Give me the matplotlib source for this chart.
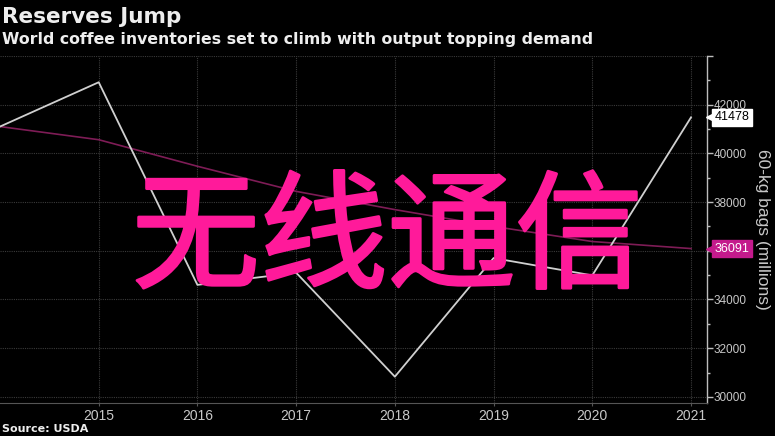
import matplotlib
matplotlib.use("Agg")
import matplotlib.pyplot as plt
import matplotlib.patheffects as pe
from matplotlib.ticker import FixedLocator, FuncFormatter, MultipleLocator
from matplotlib.transforms import blended_transform_factory

# ---- data ----
years = [2014, 2015, 2016, 2017, 2018, 2019, 2020, 2021]
stocks = [41100, 42920, 34600, 35100, 30830, 35700, 34990, 41478]
trend = [41100, 40560, 39470, 38440, 37690, 37000, 36380, 36091]
x_ticks = [2015, 2016, 2017, 2018, 2019, 2020, 2021]
y_major = [30000, 32000, 34000, 36000, 38000, 40000, 42000, 44000]
y_labels = ["30000", "32000", "34000", "", "38000", "40000", "42000", ""]

title = "Reserves Jump"
subtitle = "World coffee inventories set to climb with output topping demand"
source = "Source: USDA"
ylabel = "60-kg bags (millions)"
overlay = "无线通信"

narrow = ["Liberation Sans"]

fig = plt.figure(figsize=(7.75, 4.36), dpi=100, facecolor="black")
ax = fig.add_axes([0.0, 0.0757, 0.912, 0.796])
ax.set_facecolor("black")

ax.plot(years, trend, color="#7e1c56", lw=1.2, zorder=3)
ax.plot(years, stocks, color="#d0d0d0", lw=1.3, zorder=4)

ax.set_xlim(2014, 2021.16)
ax.set_ylim(29750, 44000)

# grid
ax.set_xticks(x_ticks)
ax.yaxis.set_major_locator(FixedLocator(y_major))
ax.yaxis.set_minor_locator(MultipleLocator(1000))
ax.yaxis.set_major_formatter(FuncFormatter(
    lambda v, p: y_labels[y_major.index(int(round(v)))] if int(round(v)) in y_major else ""))
ax.grid(True, which="major", color="#3a3a3a", lw=0.8, ls=(0, (1, 1)))

for s in ["top", "left"]:
    ax.spines[s].set_visible(False)
ax.spines["right"].set_color("#bdbdbd")
ax.spines["right"].set_linewidth(1.0)
ax.spines["bottom"].set_color("#555555")
ax.spines["bottom"].set_linestyle((0, (1, 1)))
ax.yaxis.tick_right()
ax.tick_params(axis="y", which="major", colors="#bdbdbd", length=4, width=1, pad=1,
               labelsize=8.5, labelcolor="#c8c8c8")
ax.tick_params(axis="y", which="minor", colors="#bdbdbd", length=2.5, width=1)
ax.tick_params(axis="x", colors="#555555", length=2, pad=2, labelsize=10, labelcolor="#c8c8c8")
for lab in ax.get_xticklabels() + ax.get_yticklabels():
    lab.set_family(narrow)

# y axis title on the right
fig.text(0.984, 0.474, ylabel, rotation=-90, color="#c8c8c8", fontsize=12.5,
         family=narrow, ha="center", va="center")

# value labels
tr = blended_transform_factory(ax.transAxes, ax.transData)
for val, fc, tc in [(stocks[-1], "white", "black"), (trend[-1], "#c41a8c", "white")]:
    ax.text(1.0115, val, str(val), transform=tr, ha="left", va="center",
            fontsize=9, family=narrow, color=tc, zorder=10, clip_on=False,
            bbox=dict(boxstyle="square,pad=0.2", fc=fc, ec=fc))
    ax.plot([1.0035], [val], transform=tr, marker="<", ms=5, color=fc, mec=fc,
            clip_on=False, zorder=9)

# titles
fig.text(0.003, 0.962, title, color="#eeeeee", fontsize=15.5, fontweight="bold",
         family="DejaVu Sans", ha="left", va="center")
fig.text(0.003, 0.909, subtitle, color="#eeeeee", fontsize=11.3, fontweight="bold",
         family="DejaVu Sans", ha="left", va="center")
fig.text(0.003, 0.016, source, color="#eeeeee", fontsize=8, fontweight="bold",
         family="DejaVu Sans", ha="left", va="center")

# overlay
fig.text(0.5, 0.445, overlay, color="#ff1a9a", fontsize=92,
         family=["Noto Sans CJK SC", "DejaVu Sans"], ha="center", va="center", zorder=20,
         path_effects=[pe.withStroke(linewidth=2.0, foreground="#ff1a9a")])

fig.savefig("out.png", dpi=100, facecolor="black")
